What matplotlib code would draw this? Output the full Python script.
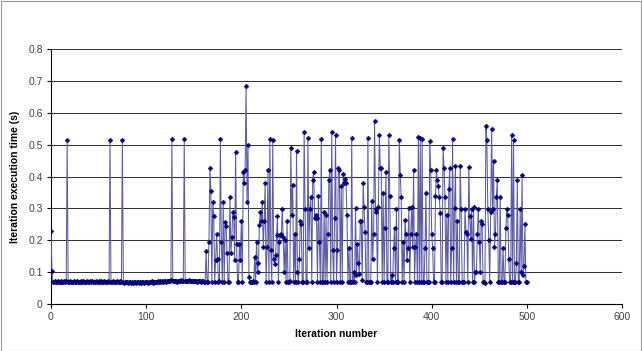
import matplotlib
matplotlib.use("Agg")
import matplotlib.pyplot as plt
import numpy as np
from matplotlib.patches import Rectangle

# Iteration execution time in milliseconds, iterations 0..162
early_ms = [228, 105, 70, 69, 71, 68, 70, 72, 69, 70, 71, 68, 70, 69, 72, 70, 71, 515, 70, 69,
            71, 70, 68, 70, 72, 69, 70, 71, 69, 70, 68, 71, 70, 69, 72, 70, 68, 70, 71, 69,
            70, 72, 69, 71, 70, 68, 70, 71, 69, 70, 72, 70, 69, 71, 70, 68, 71, 70, 69, 70,
            71, 69, 515, 70, 68, 71, 70, 69, 70, 72, 68, 70, 69, 71, 70, 515, 69, 67, 70, 68,
            69, 66, 70, 68, 67, 69, 66, 68, 70, 67, 68, 69, 66, 70, 68, 67, 69, 68, 66, 70,
            68, 69, 67, 70, 68, 69, 71, 67, 70, 69, 68, 70, 71, 69, 70, 72, 70, 71, 69, 72,
            71, 70, 72, 73, 71, 72, 74, 518, 72, 71, 73, 72, 70, 72, 73, 71, 72, 74, 72, 71,
            518, 72, 73, 71, 72, 74, 72, 71, 73, 72, 71, 73, 72, 70, 72, 71, 73, 72, 70, 71,
            72, 70, 69]

# iterations 163..500
late_ms = [168, 70, 69, 196, 427, 355, 68, 319, 275, 70,
           138, 219, 140, 69, 71, 518, 196, 68, 319, 70,
           257, 246, 160, 70, 68, 337, 159, 212, 290, 274,
           138, 477, 190, 70, 69, 190, 138, 260, 68, 416,
           380, 420, 686, 320, 500, 86, 70, 68, 69, 71,
           70, 148, 68, 196, 100, 130, 248, 290, 260, 319,
           180, 260, 380, 70, 180, 420, 68, 518, 170, 69,
           515, 140, 127, 155, 216, 275, 70, 196, 216, 220,
           298, 210, 100, 200, 68, 260, 70, 69, 71, 490,
           280, 375, 68, 220, 70, 480, 100, 69, 140, 260,
           250, 70, 68, 540, 298, 70, 69, 520, 177, 298,
           337, 68, 390, 416, 270, 280, 270, 70, 340, 196,
           69, 518, 70, 68, 290, 70, 280, 69, 220, 390,
           420, 68, 540, 170, 70, 270, 530, 69, 170, 427,
           420, 70, 370, 68, 408, 380, 394, 380, 280, 69,
           177, 70, 68, 520, 70, 100, 69, 300, 90, 190,
           130, 95, 260, 260, 75, 380, 305, 225, 70, 68,
           520, 69, 70, 68, 325, 140, 220, 576, 298, 290,
           70, 305, 530, 427, 427, 68, 350, 70, 240, 416,
           69, 70, 530, 340, 68, 90, 70, 175, 240, 69,
           298, 70, 68, 515, 405, 337, 70, 196, 69, 265,
           220, 138, 175, 300, 68, 220, 305, 180, 420, 70,
           180, 220, 69, 525, 70, 520, 68, 518, 70, 69,
           177, 350, 70, 68, 69, 513, 420, 220, 177, 70,
           68, 340, 420, 390, 370, 335, 285, 70, 69, 490,
           427, 337, 68, 280, 70, 360, 427, 69, 177, 518,
           70, 300, 435, 68, 260, 70, 69, 435, 298, 70,
           68, 69, 298, 225, 220, 70, 430, 275, 205, 298,
           68, 305, 70, 100, 100, 220, 298, 196, 100, 260,
           250, 70, 68, 66, 560, 515, 298, 200, 69, 290,
           550, 298, 450, 180, 220, 337, 390, 70, 68, 337,
           70, 69, 175, 68, 70, 240, 298, 280, 140, 69,
           70, 530, 68, 515, 70, 69, 130, 390, 70, 68,
           298, 100, 405, 90, 120, 250, 70, 68]

x_ticks = [0, 100, 200, 300, 400, 500, 600]
y_ticks = [0, 0.1, 0.2, 0.3, 0.4, 0.5, 0.6, 0.7, 0.8]
y_tick_labels = ["0", "0.1", "0.2", "0.3", "0.4", "0.5", "0.6", "0.7", "0.8"]
x_label = "Iteration number"
y_label = "Iteration execution time (s)"

times = np.array(early_ms + late_ms) / 1000.0
iters = np.arange(len(times))

plt.rcParams['font.family'] = ['Liberation Sans', 'DejaVu Sans']

W, H = 642, 351
fig = plt.figure(figsize=(W / 100, H / 100), dpi=100)
fig.patch.set_facecolor('white')
ax = fig.add_axes([51 / W, 1 - 304 / H, (622 - 51) / W, (304 - 49.3) / H])

# connecting line (appears light lavender in the original)
ax.plot(iters, times, color='#5c5ca4', lw=0.75, zorder=3)
# navy diamond markers
ax.plot(iters, times, linestyle='none', marker='D', markersize=2.5,
        markerfacecolor='#000080', markeredgecolor='#000080', markeredgewidth=0.3,
        zorder=4)

ax.set_xlim(0, 600)
ax.set_ylim(0, 0.8)
ax.set_xticks(x_ticks)
ax.set_yticks(y_ticks)
ax.set_yticklabels(y_tick_labels)
ax.yaxis.grid(True, color='#333333', lw=0.75)
ax.set_axisbelow(True)
for s in ['top', 'right']:
    ax.spines[s].set_visible(False)
for s in ['left', 'bottom']:
    ax.spines[s].set_color('black')
    ax.spines[s].set_linewidth(0.8)
ax.tick_params(direction='out', length=3, width=0.8, color='black',
               labelsize=7.5, labelcolor='#444444', pad=3)

ax.set_xlabel(x_label, fontsize=7.5, fontweight='bold', labelpad=5)
ax.set_ylabel(y_label, fontsize=7.5, fontweight='bold', labelpad=6)

fig.patches.append(Rectangle((0.5 / W, 0.5 / H), 1 - 1.5 / W, 1 - 1.5 / H,
                             transform=fig.transFigure, fill=False,
                             edgecolor='#999999', lw=0.8))

fig.savefig('out.png', dpi=100)
